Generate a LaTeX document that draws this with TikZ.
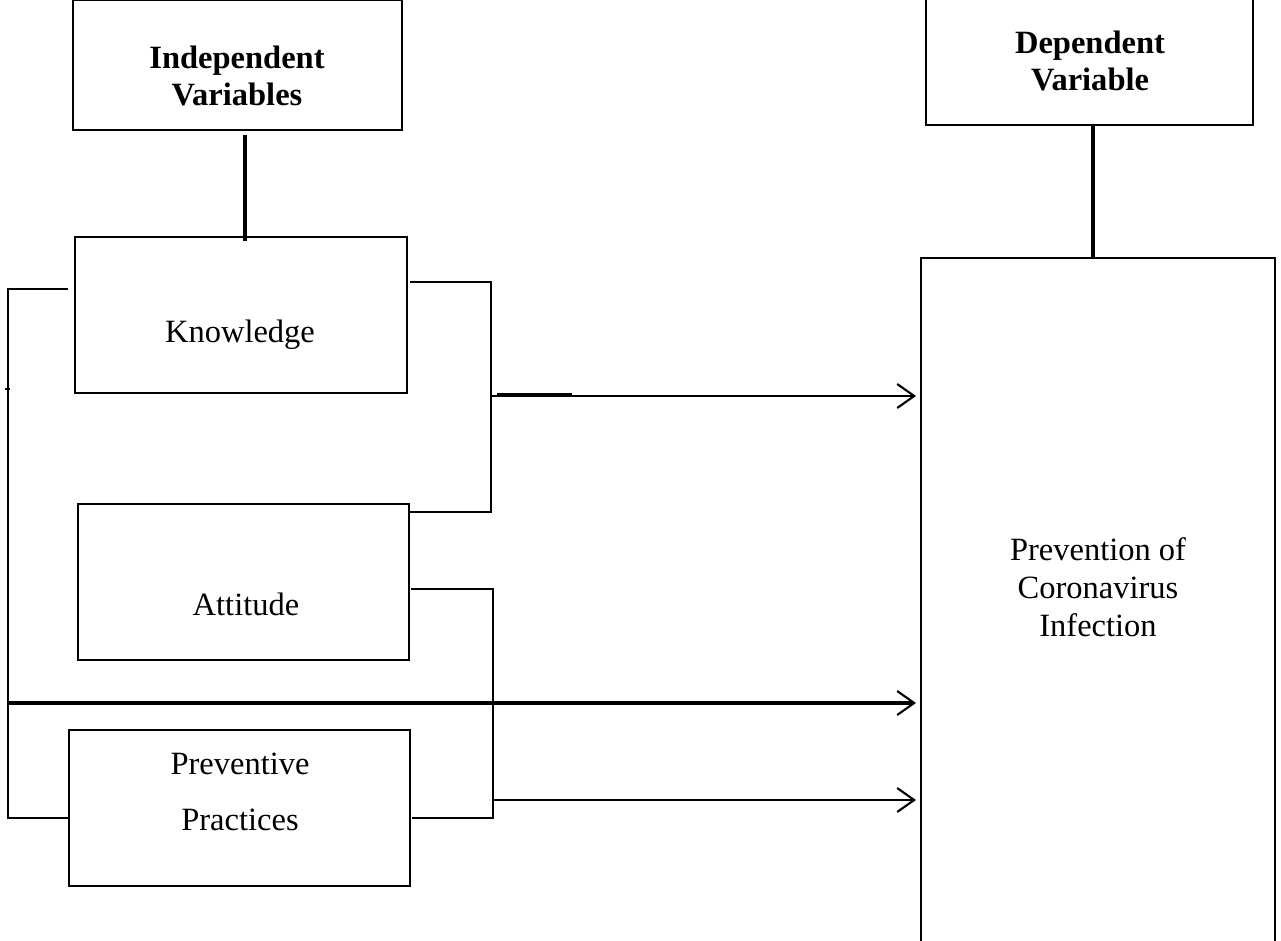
\documentclass[tikz,border=0pt]{standalone}
\usepackage{fontspec}
\setmainfont{Liberation Serif}
\usetikzlibrary{arrows.meta,positioning}
\tikzset{box/.style={draw, line width=1.1pt, inner sep=0pt},
         label text/.style={align=center, font=\fontsize{18.5}{21.5}\selectfont},
         head text/.style={align=center, font=\fontsize{18.5}{21.5}\selectfont\bfseries},
         link/.style={line width=1pt},
         stem/.style={line width=2pt},
         flow/.style={line width=1pt, -{Straight Barb[length=0.34cm, width=0.48cm, line width=1.2pt]}}}

\begin{document}
\begin{tikzpicture}[x=0.02cm, y=-0.02cm]
        \clip (0, 0) rectangle (1281, 940);
        % boxes
        \node[box, minimum width=6.58cm, minimum height=2.6cm] (indep) at (237.5, 65) {};
        \node[box, minimum width=6.54cm, minimum height=2.6cm] (dep) at (1089.5, 60) {};
        \node[box, minimum width=6.64cm, minimum height=3.12cm] (know) at (241, 315) {};
        \node[box, minimum width=6.62cm, minimum height=3.12cm] (att) at (243.5, 582) {};
        \node[box, minimum width=6.82cm, minimum height=3.12cm] (prac) at (239.5, 808) {};
        \node[box, minimum width=7.08cm, minimum height=14cm] (prev) at (1098, 608) {};
        % texts
        \node[head text] (indeplbl) at (237, 76) {Independent\\Variables};
        \node[head text] (deplbl) at (1090, 61) {Dependent\\Variable};
        \node[label text] (knowlbl) at (240, 335) {Knowledge};
        \node[label text] (attlbl) at (246, 604) {Attitude};
        \node[label text, align=center, font=\fontsize{18.5}{32}\selectfont] (praclbl) at (240, 792) {Preventive\\Practices};
        \node[label text] (prevlbl) at (1098, 587) {Prevention of\\Coronavirus\\Infection};
        % helper points
        \coordinate (itop) at (245, 135);
        \coordinate (ktop) at (245, 241);
        \coordinate (dbot) at (1093, 125);
        \coordinate (pbtop) at (1093, 258);
        \coordinate (ka) at (410, 282);
        \coordinate (kb) at (491, 282);
        \coordinate (kc) at (491, 512);
        \coordinate (kd) at (410, 512);
        \coordinate (kout) at (491, 396);
        \coordinate (kin) at (916, 396);
        \coordinate (aa) at (411, 589);
        \coordinate (ab) at (493, 589);
        \coordinate (ac) at (493, 818);
        \coordinate (ad) at (412, 818);
        \coordinate (aout) at (493, 800);
        \coordinate (ain) at (916, 800);
        \coordinate (la) at (68, 289);
        \coordinate (lb) at (8, 289);
        \coordinate (lc) at (8, 818);
        \coordinate (ld) at (69, 818);
        \coordinate (lout) at (8, 703);
        \coordinate (lin) at (916, 703);
        % connectors
        \draw[stem] (itop) -- (ktop);
        \draw[stem] (dbot) -- (pbtop);
        \draw[link] (ka) -- (kb) -- (kc) -- (kd);
        \draw[flow] (kout) -- (kin);
        \draw[stem] (497, 395) -- (572, 395);
        \draw[link] (aa) -- (ab) -- (ac) -- (ad);
        \draw[flow] (aout) -- (ain);
        \draw[link] (la) -- (lb) -- (lc) -- (ld);
        \draw[flow, line width=2pt] (lout) -- (lin);
        \draw[link] (5, 389) -- (10, 389);
\end{tikzpicture}
\end{document}
